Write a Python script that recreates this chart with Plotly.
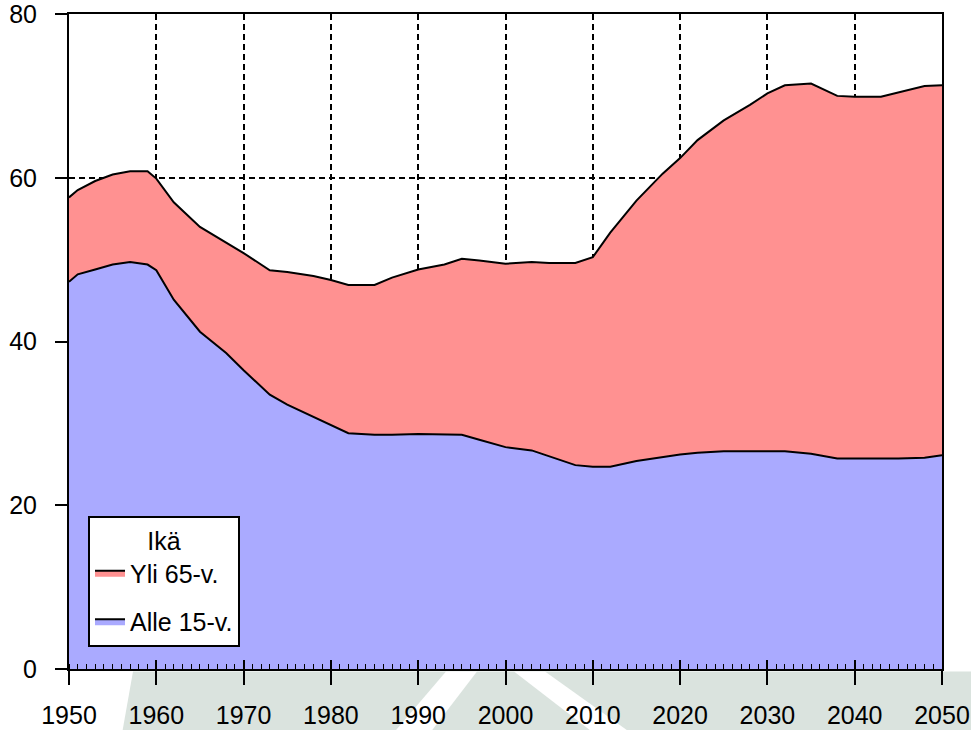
import plotly.graph_objects as go

# ---- data ----
years = [1950, 1951, 1953, 1955, 1957, 1959, 1960, 1962, 1965, 1968, 1970, 1973,
         1975, 1978, 1980, 1982, 1985, 1987, 1990, 1993, 1995, 1997, 2000, 2003,
         2005, 2008, 2010, 2012, 2015, 2018, 2020, 2022, 2025, 2028, 2030, 2032,
         2035, 2038, 2040, 2043, 2045, 2048, 2050]
alle15 = [47.3, 48.2, 48.8, 49.4, 49.7, 49.4, 48.7, 45.1, 41.2, 38.6, 36.5, 33.5,
          32.3, 30.8, 29.8, 28.8, 28.6, 28.6, 28.7, 28.6, 28.6, 28.0, 27.1, 26.7,
          26.0, 24.9, 24.7, 24.7, 25.4, 25.9, 26.2, 26.4, 26.6, 26.6, 26.6, 26.6,
          26.3, 25.7, 25.7, 25.7, 25.7, 25.8, 26.1]
yli65 = [10.3, 10.3, 10.8, 11.0, 11.1, 11.4, 11.2, 11.9, 12.8, 13.5, 14.3, 15.2,
         16.2, 17.2, 17.7, 18.1, 18.3, 19.2, 20.1, 20.8, 21.5, 21.9, 22.4, 23.0,
         23.6, 24.7, 25.6, 28.6, 31.8, 34.6, 36.2, 38.2, 40.4, 42.3, 43.7, 44.7,
         45.2, 44.3, 44.2, 44.2, 44.7, 45.4, 45.2]
series_names = ["Alle 15-v.", "Yli 65-v."]
legend_title = "Ikä"
x_start, x_end, x_step = 1950, 2050, 10
y_start, y_end, y_step = 0, 80, 20

FONT = "Liberation Sans, Arial, sans-serif"

W, H = 971, 730
PL, PR, PT, PB = 69, 942, 14, 669.5  # plot box in picture pixels
L, R, T, B = PL, W - PR, PT, H - PB


def px(xp):
    return (xp - PL) / (PR - PL)


def py(yp):
    return (PB - yp) / (PB - PT)


fig = go.Figure()
fig.add_trace(go.Scatter(
    x=years, y=alle15, name=series_names[0], stackgroup="age", mode="lines",
    line=dict(color="black", width=2), fillcolor="#AAAAFF", legendrank=2,
    legendgroup="alle", hoverinfo="x+y"))
fig.add_trace(go.Scatter(
    x=years, y=yli65, name=series_names[1], stackgroup="age", mode="lines",
    line=dict(color="black", width=2), fillcolor="#FF9191", legendrank=1,
    legendgroup="yli", hoverinfo="x+y"))
# helper trace so that the overlay axis (inner major ticks) is drawn
fig.add_trace(go.Scatter(x=years[:1], y=alle15[:1], xaxis="x2", yaxis="y",
                         mode="lines", line=dict(width=0), showlegend=False,
                         hoverinfo="skip"))

axis_common = dict(showline=True, linecolor="black", linewidth=2, mirror=True,
                   showgrid=True, gridcolor="black", gridwidth=1.5,
                   griddash="6px,4px", zeroline=False, automargin=False,
                   ticklabeloverflow="allow", layer="above traces",
                   tickfont=dict(family=FONT, size=25, color="black"),
                   tickcolor="black", tickwidth=1.5, ticks="outside",
                   tickmode="linear")

fig.update_layout(
    template="none",
    width=W, height=H,
    margin=dict(l=L, r=R, t=T, b=B, autoexpand=False),
    paper_bgcolor="white", plot_bgcolor="white",
    font=dict(family=FONT, color="black"),
    xaxis=dict(range=[x_start, x_end], tick0=x_start, dtick=x_step, ticklen=14,
               ticklabelstandoff=9,
               minor=dict(dtick=1, tick0=x_start, ticks="inside", ticklen=5,
                          tickcolor="black", tickwidth=1, showgrid=False),
               **axis_common),
    xaxis2=dict(range=[x_start, x_end], overlaying="x", anchor="y", side="bottom",
                tickmode="linear", tick0=x_start, dtick=x_step,
                ticks="inside", ticklen=9, tickwidth=1.5, layer="above traces",
                tickcolor="black", showticklabels=False, showgrid=False,
                showline=False, zeroline=False, automargin=False),
    yaxis=dict(range=[y_start, y_end], tick0=y_start, dtick=y_step, ticklen=12,
               ticklabelstandoff=13, **axis_common),
    showlegend=True,
    legend=dict(x=px(88), y=py(516), xanchor="left", yanchor="top",
                bgcolor="white", bordercolor="black", borderwidth=2,
                traceorder="grouped", tracegroupgap=13,
                font=dict(family=FONT, size=25, color="black"),
                title=dict(text=legend_title, side="top center",
                           font=dict(family=FONT, size=25, color="black"))),
)

# faint background watermark below the plot
wm = "#DAE3DE"
band = f"M {px(133)},{py(672)} L {px(980)},{py(672)} L {px(980)},{py(740)} L {px(121)},{py(740)} Z"
stripe1 = f"M {px(446)},{py(672)} L {px(477)},{py(672)} L {px(425)},{py(740)} L {px(388)},{py(740)} Z"
stripe2 = f"M {px(514)},{py(672)} L {px(545)},{py(672)} L {px(640)},{py(740)} L {px(602)},{py(740)} Z"
fig.add_shape(type="path", path=band, xref="paper", yref="paper",
              fillcolor=wm, line=dict(width=0), layer="below")
for p in (stripe1, stripe2):
    fig.add_shape(type="path", path=p, xref="paper", yref="paper",
                  fillcolor="white", line=dict(width=0), layer="below")

# remove the default 8px page margin so the figure fills the window exactly
fig.write_html("out.html", config={"displayModeBar": False},
               post_script="document.body.style.margin='0px';")
